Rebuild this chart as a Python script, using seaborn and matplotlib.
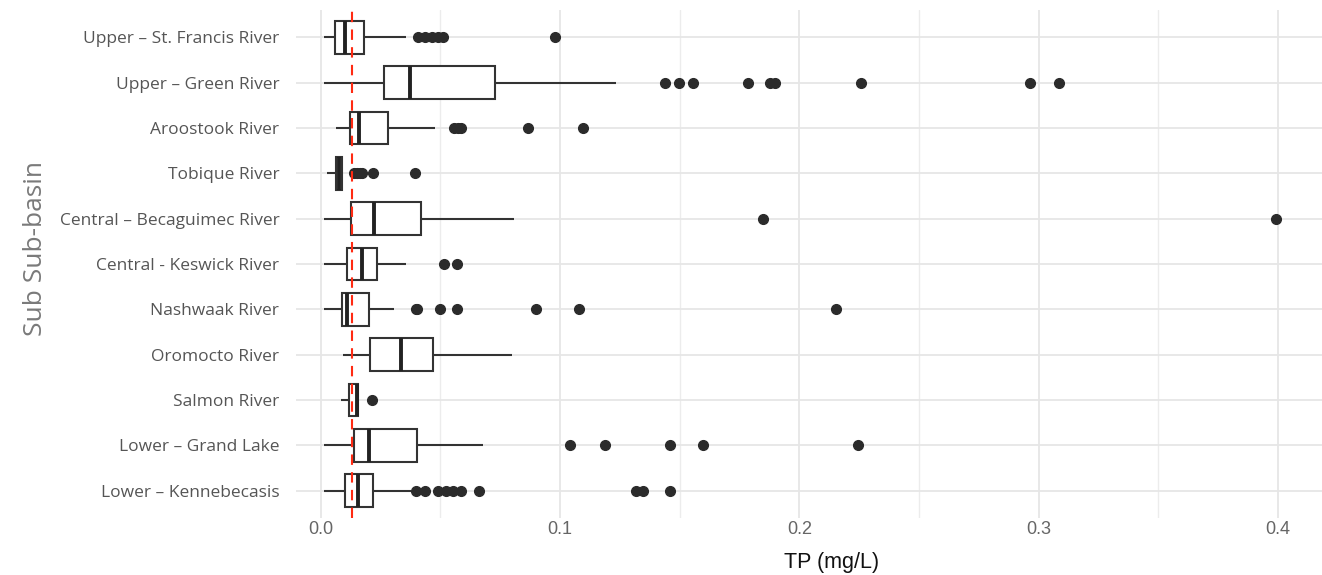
"""TP concentration by sub sub-basin, horizontal boxplots."""

import numpy as np
import pandas as pd
import matplotlib
matplotlib.use("Agg")
import matplotlib.pyplot as plt
from matplotlib.ticker import MultipleLocator
import seaborn as sns

basins = [
    "Upper \u2013 St. Francis River",
    "Upper \u2013 Green River",
    "Aroostook River",
    "Tobique River",
    "Central \u2013 Becaguimec River",
    "Central - Keswick River",
    "Nashwaak River",
    "Oromocto River",
    "Salmon River",
    "Lower \u2013 Grand Lake",
    "Lower \u2013 Kennebecasis",
]

# box summaries (mg/L)
whisker_lo = [0.0014, 0.0014, 0.0064, 0.0025, 0.0014, 0.0014, 0.0014, 0.0094, 0.0084, 0.0014, 0.0014]
q1 = [0.0060, 0.0265, 0.0122, 0.0063, 0.0125, 0.0111, 0.0090, 0.0206, 0.0120, 0.0140, 0.0102]
median = [0.0102, 0.0373, 0.0161, 0.0078, 0.0223, 0.0174, 0.0109, 0.0336, 0.0150, 0.0203, 0.0157]
q3 = [0.0181, 0.0728, 0.0282, 0.0090, 0.0419, 0.0234, 0.0203, 0.0468, 0.0157, 0.0404, 0.0218]
whisker_hi = [0.0355, 0.1236, 0.0478, 0.0090, 0.0809, 0.0356, 0.0308, 0.0798, 0.0157, 0.0679, 0.0377]
outliers = [
    [0.0408, 0.0436, 0.0464, 0.0491, 0.0512, 0.0979],
    [0.1437, 0.1497, 0.1557, 0.1785, 0.1878, 0.1900, 0.2258, 0.2964, 0.3084],
    [0.0557, 0.0574, 0.0586, 0.0866, 0.1096],
    [0.0140, 0.0152, 0.0163, 0.0172, 0.0218, 0.0394],
    [0.1848, 0.3992],
    [0.0517, 0.0571],
    [0.0398, 0.0403, 0.0499, 0.0571, 0.0900, 0.1079, 0.2153],
    [],
    [0.0215],
    [0.1042, 0.1188, 0.1458, 0.1596, 0.2245],
    [0.0398, 0.0436, 0.0489, 0.0525, 0.0555, 0.0587, 0.0660, 0.1316, 0.1345, 0.1460],
]
guideline = 0.013

# rebuild samples whose quartiles / whiskers match the read summaries
rows = []
for i, name in enumerate(basins):
    vals = [whisker_lo[i]] + [q1[i]] * 30 + [median[i]] * 30 + [q3[i]] * 30 + [whisker_hi[i]] + outliers[i]
    rows += [(name, v) for v in vals]
df = pd.DataFrame(rows, columns=["basin", "tp"])

sns.set_style("white")
plt.rcParams["font.family"] = ["Open Sans", "DejaVu Sans"]

fig = plt.figure(figsize=(13.22, 5.75), dpi=100)
ax = fig.add_axes([296 / 1322, 57 / 575, 1 - 296 / 1322, 508 / 575])

sns.boxplot(data=df, x="tp", y="basin", order=basins, orient="h", width=0.72,
            color="white", linecolor="#333333", linewidth=1.5,
            medianprops={"linewidth": 2.8, "color": "#222222"},
            capprops={"linewidth": 0},
            flierprops={"marker": "o", "markerfacecolor": "#2b2b2b", "markeredgecolor": "#2b2b2b",
                        "markersize": 7},
            ax=ax)
ax.set_ylim(10.6, -0.6)
ax.set_xlim(-0.0103, 0.4184)

ax.xaxis.set_major_locator(MultipleLocator(0.1))
ax.xaxis.set_minor_locator(MultipleLocator(0.05))
ax.xaxis.grid(True, which="major", color="#e6e6e6", lw=1.3)
ax.xaxis.grid(True, which="minor", color="#ececec", lw=1.0)
ax.yaxis.grid(True, which="major", color="#e6e6e6", lw=1.3)
ax.set_axisbelow(True)

ax.axvline(guideline, color="#ff2a12", lw=1.5, ls=(0, (5, 3.5)), zorder=5)

for s in ax.spines.values():
    s.set_visible(False)
ax.tick_params(axis="both", which="both", length=0)
ax.tick_params(axis="y", labelsize=12.5, labelcolor="#555555", pad=12)
ax.tick_params(axis="x", labelsize=13, labelcolor="#666666", pad=2)
ax.set_xticks([0.0, 0.1, 0.2, 0.3, 0.4])
ax.set_xticklabels(["0.0", "0.1", "0.2", "0.3", "0.4"],
                   family=["Liberation Sans Narrow", "Liberation Sans", "DejaVu Sans"])

ax.set_xlabel("TP (mg/L)", fontsize=15.5, color="#111111",
              family=["Liberation Sans", "DejaVu Sans"])
ax.xaxis.set_label_coords(0.522, -0.066)
ax.set_ylabel("Sub Sub-basin", fontsize=19, color="#7a7a7a")
ax.yaxis.set_label_coords(-0.242, 0.53)

fig.savefig("out.png", dpi=100)
plt.close(fig)
